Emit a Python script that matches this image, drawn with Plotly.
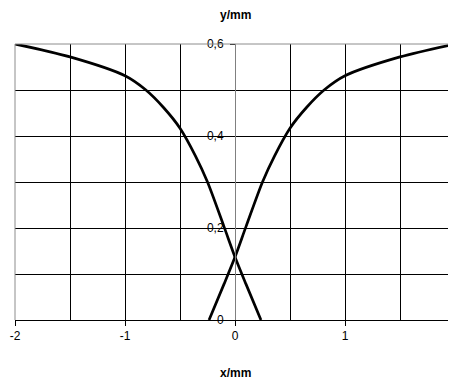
import plotly.graph_objects as go

# Data
x_falling = [-2.0, -1.5, -1.0, -0.81, -0.65, -0.5, -0.36, -0.25, -0.1, 0.0, 0.1, 0.236]
y_falling = [0.6, 0.572, 0.531, 0.5, 0.462, 0.417, 0.357, 0.3, 0.203, 0.137, 0.078, 0.0]

x_rising = [-0.236, -0.1, 0.0, 0.1, 0.25, 0.36, 0.5, 0.65, 0.81, 1.0, 1.5, 2.0]
y_rising = [0.0, 0.078, 0.137, 0.203, 0.3, 0.357, 0.417, 0.462, 0.5, 0.531, 0.572, 0.6]

x_tickvals = [-2, -1, 0, 1, 2]
x_ticktext = ["-2", "-1", "0", "1", "2"]
y_tickvals = [0, 0.2, 0.4, 0.6]
y_ticktext = ["0", "0,2", "0,4", "0,6"]

FONT = "Liberation Sans, Arial, sans-serif"

fig = go.Figure()
for xs, ys in [(x_falling, y_falling), (x_rising, y_rising)]:
    fig.add_trace(go.Scatter(x=xs, y=ys, mode="lines",
                             line=dict(color="black", width=2.7, shape="spline", smoothing=0.8),
                             showlegend=False, hoverinfo="skip"))

# The page body adds an 8px offset, so the figure is sized to fit the window.
fig.update_layout(
    width=448, height=372,
    margin=dict(l=7, r=1, t=36, b=60, autoexpand=False),
    paper_bgcolor="white", plot_bgcolor="white",
    font=dict(family=FONT, size=12, color="black"),
    xaxis=dict(range=[-2, 2], tickvals=x_tickvals, ticktext=x_ticktext, automargin=False,
               showgrid=True, gridcolor="black", gridwidth=1,
               minor=dict(dtick=0.5, tick0=0, showgrid=True, gridcolor="black", gridwidth=1),
               ticks="outside", ticklen=5, tickcolor="black",
               showline=True, linecolor="black", linewidth=1,
               zeroline=True, zerolinecolor="#808080", zerolinewidth=1,
               ticklabeloverflow="allow",
               tickfont=dict(size=12), fixedrange=True),
    yaxis=dict(range=[0, 0.6], tickvals=y_tickvals, ticktext=y_ticktext, automargin=False,
               anchor="free", position=0.5,
               showgrid=True, gridcolor="black", gridwidth=1,
               minor=dict(dtick=0.1, tick0=0, showgrid=True, gridcolor="black", gridwidth=1),
               ticks="outside", ticklen=5, tickcolor="black",
               showline=True, linecolor="#808080", linewidth=1,
               ticklabelstandoff=4, ticklabeloverflow="allow",
               zeroline=False, tickfont=dict(size=12), fixedrange=True),
    annotations=[
        dict(text="<b>y/mm</b>", xref="x domain", yref="paper", x=0.5, y=1,
             yanchor="middle", xanchor="center", yshift=29,
             showarrow=False, font=dict(size=12, family=FONT)),
        dict(text="<b>x/mm</b>", xref="x domain", yref="paper", x=0.5, y=0,
             yanchor="middle", xanchor="center", yshift=-53,
             showarrow=False, font=dict(size=12, family=FONT)),
    ],
    shapes=[
        dict(type="line", xref="x domain", yref="y domain", x0=0, x1=0, y0=0, y1=1,
             line=dict(color="#8c8c8c", width=1), layer="above"),
        dict(type="line", xref="x domain", yref="y domain", x0=1, x1=1, y0=0, y1=1,
             line=dict(color="#8c8c8c", width=1), layer="above"),
        dict(type="line", xref="x domain", yref="y domain", x0=0, x1=1, y0=1, y1=1,
             line=dict(color="#8c8c8c", width=1), layer="above"),
    ],
)

fig.write_html("out.html")
